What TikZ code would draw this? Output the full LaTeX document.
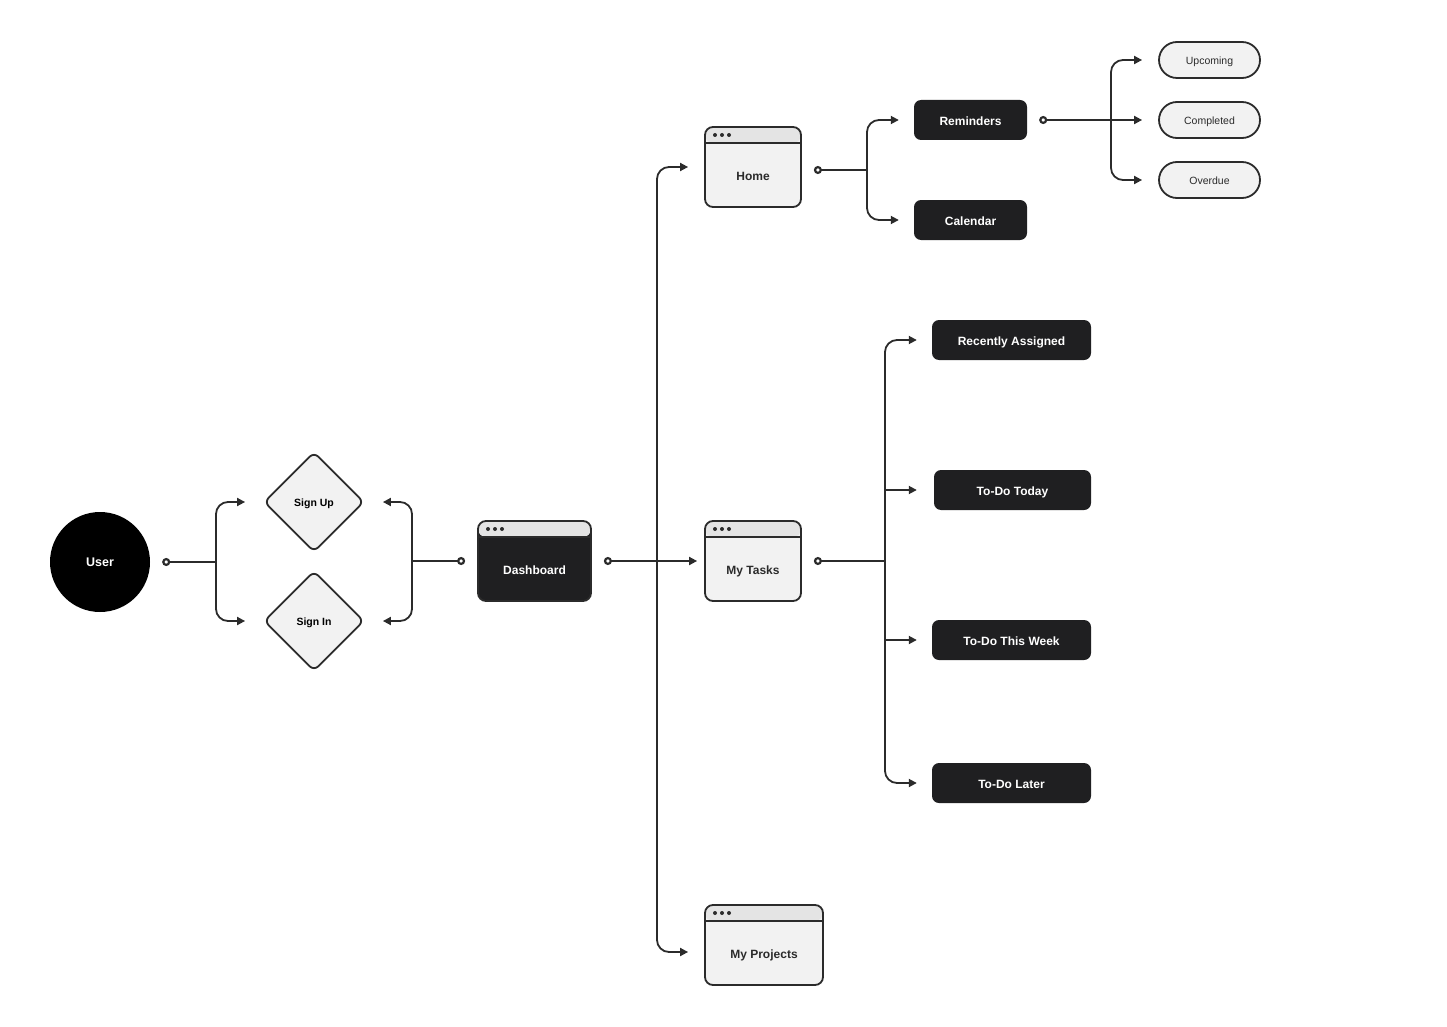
\documentclass[tikz,border=0pt]{standalone}
\usepackage{fontspec}
\setmainfont{Liberation Sans}
\usetikzlibrary{shapes.geometric,arrows.meta}
\definecolor{ink}{HTML}{2B2B2B}
\definecolor{boxdark}{HTML}{1F1F21}
\definecolor{paper}{HTML}{F2F2F2}
\definecolor{barcol}{HTML}{E4E4E4}

\begin{document}
\begin{tikzpicture}[x=1pt,y=-1pt,
  line/.style={draw=ink,line width=1.8pt},
  link/.style={line,-{Triangle[length=8pt,width=8pt]}},
  stem/.style={line,{Circle[open,length=8pt,width=8pt,line width=2.2pt]}-},
  stemlink/.style={line,{Circle[open,length=8pt,width=8pt,line width=2.2pt]}-{Triangle[length=8pt,width=8pt]}},
  elbow/.style={rounded corners=12pt},
  user/.style={circle,fill=black,minimum size=100pt,text=white,text height=10pt,text depth=1pt,font=\fontsize{12.5}{14}\selectfont\bfseries},
  choice/.style={diamond,draw=ink,line width=1.8pt,fill=paper,rounded corners=6pt,minimum width=100pt,minimum height=100pt,inner sep=0pt,text height=9.5pt,text depth=1pt,font=\fontsize{10.5}{12}\selectfont\bfseries},
  window/.style={rectangle,draw=ink,line width=1.8pt,fill=paper,rounded corners=8pt,minimum height=80pt,
    path picture={
      \fill[barcol] (path picture bounding box.north west) rectangle ([yshift=-16pt]path picture bounding box.north east);
      \draw[ink,line width=1.8pt] ([yshift=-16pt]path picture bounding box.north west) -- ([yshift=-16pt]path picture bounding box.north east);
      \foreach \i in {0,1,2}
        \fill[ink] ([xshift=10pt+\i*7pt,yshift=-8pt]path picture bounding box.north west) circle (2pt);
    }},
  wtext/.style={font=\fontsize{12}{14}\selectfont\bfseries,text height=11pt,text depth=0.5pt,text=ink},
  dark/.style={rectangle,fill=boxdark,rounded corners=7pt,minimum height=40pt,text height=11pt,text depth=0.5pt,text=white,font=\fontsize{12}{14}\selectfont\bfseries},
  pill/.style={rectangle,draw=ink,line width=1.8pt,fill=paper,rounded corners=18pt,minimum width=101pt,minimum height=36pt,text height=9.5pt,text depth=1pt,font=\fontsize{10.5}{12}\selectfont,text=ink}]
\useasboundingbox (0,0) rectangle (1447,1027);

\node[user] (user) at (100,562) {User};
\node[choice] (signup) at (314,502) {Sign Up};
\node[choice] (signin) at (314,621) {Sign In};

\node[window,minimum width=113pt,fill=boxdark] (dash) at (534.5,561) {};
\node[wtext,text=white] (dash-t) at ([yshift=-8pt]dash.center) {Dashboard};
\node[window,minimum width=96pt] (home) at (753,167) {};
\node[wtext] (home-t) at ([yshift=-8pt]home.center) {Home};
\node[window,minimum width=96pt] (tasks) at (753,561) {};
\node[wtext] (tasks-t) at ([yshift=-8pt]tasks.center) {My Tasks};
\node[window,minimum width=118pt] (projects) at (764,945) {};
\node[wtext] (projects-t) at ([yshift=-8pt]projects.center) {My Projects};

\node[dark,minimum width=113pt] (rem) at (970.5,120) {Reminders};
\node[dark,minimum width=113pt] (cal) at (970.5,220) {Calendar};
\node[pill] (upcoming) at (1209.5,60) {Upcoming};
\node[pill] (completed) at (1209.5,120) {Completed};
\node[pill] (overdue) at (1209.5,180) {Overdue};

\node[dark,minimum width=159pt] (recent) at (1011.5,340) {Recently Assigned};
\node[dark,minimum width=157pt] (today) at (1012.5,490) {To-Do Today};
\node[dark,minimum width=159pt] (week) at (1011.5,640) {To-Do This Week};
\node[dark,minimum width=159pt] (later) at (1011.5,783) {To-Do Later};

\coordinate (j1) at (216,562);
\draw[stem] ([xshift=12pt]user.east) -- (j1);
\draw[link,elbow] (j1) |- ([xshift=-18pt]signup.west);
\draw[link,elbow] (j1) |- ([xshift=-18pt]signin.west);

\coordinate (j2) at (412,561);
\draw[stem] ([xshift=-12pt]dash.west) -- (j2);
\draw[link,elbow] (j2) |- ([xshift=18pt]signup.east);
\draw[link,elbow] (j2) |- ([xshift=18pt]signin.east);

\coordinate (j3) at (657,561);
\draw[stemlink] ([xshift=12pt]dash.east) -- ([xshift=-7pt]tasks.west);
\draw[link,elbow] (j3) |- ([xshift=-16pt]home.west);
\draw[link,elbow] (j3) |- ([xshift=-16pt,yshift=-7pt]projects.west);

\coordinate (j4) at (867,170);
\draw[stem] ([xshift=12pt,yshift=-3pt]home.east) -- (j4);
\draw[link,elbow] (j4) |- ([xshift=-15pt]rem.west);
\draw[link,elbow] (j4) |- ([xshift=-15pt]cal.west);

\coordinate (j5) at (1111,120);
\draw[stemlink] ([xshift=12pt]rem.east) -- ([xshift=-16pt]completed.west);
\draw[link,elbow] (j5) |- ([xshift=-16pt]upcoming.west);
\draw[link,elbow] (j5) |- ([xshift=-16pt]overdue.west);

\coordinate (j6) at (885,561);
\draw[stem] ([xshift=12pt]tasks.east) -- (j6);
\draw[link,elbow] (j6) |- ([xshift=-15pt]recent.west);
\draw[link,elbow] (j6) |- ([xshift=-15pt]later.west);
\draw[link] (today.west -| j6) -- ([xshift=-17pt]today.west);
\draw[link] (week.west -| j6) -- ([xshift=-15pt]week.west);
\end{tikzpicture}
\end{document}
